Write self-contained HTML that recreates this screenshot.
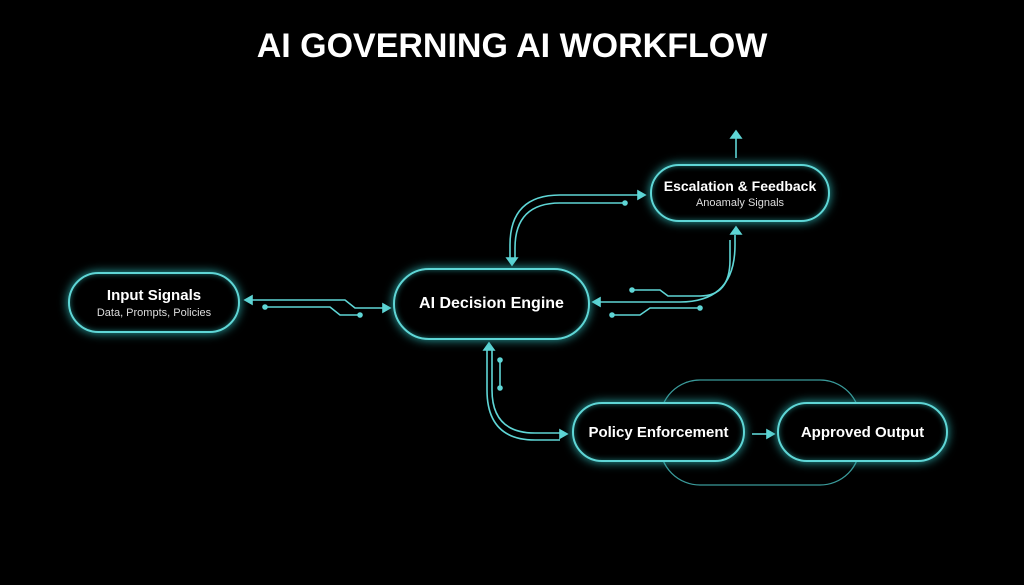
<!DOCTYPE html>
<html><head><style>
body{margin:0;width:1024px;height:585px;background:#000;overflow:hidden;font-family:"Liberation Sans",sans-serif;}
.t{position:absolute;left:0;width:1024px;top:27px;text-align:center;color:#fff;font-weight:bold;font-size:34px;}
.n{position:absolute;background:#000;border:2.5px solid #5fd6d6;border-radius:40px;box-shadow:0 0 10px #2aa8a8,inset 0 0 6px #1a6a6a;color:#fff;text-align:center;display:flex;flex-direction:column;justify-content:center;font-weight:bold;font-size:15px;box-sizing:border-box;}
.n small{font-weight:normal;font-size:11px;color:#ddd;margin-top:3px;}
</style></head><body>
<div class="t">AI GOVERNING AI WORKFLOW</div>
<svg width="1024" height="585" style="position:absolute;left:0;top:0" fill="none" stroke="#5fd6d6" stroke-width="1.6">
<rect x="660" y="380" width="200" height="105" rx="40" stroke="#3a9a9a" stroke-width="1.3"/>
<path d="M250 300 H345 L355 308 H385"/><path d="M265 307 H330 L340 315 H360"/>
<circle cx="265" cy="307" r="2" fill="#5fd6d6"/><circle cx="360" cy="315" r="2" fill="#5fd6d6"/>
<polygon points="245,300 252,296 252,304" fill="#5fd6d6"/><polygon points="390,308 383,304 383,312" fill="#5fd6d6"/>
<path d="M510 258 V245 Q510 195 560 195 H640"/><path d="M515 258 V248 Q515 203 560 203 H625"/>
<circle cx="625" cy="203" r="2" fill="#5fd6d6"/>
<polygon points="645,195 638,191 638,199" fill="#5fd6d6"/><polygon points="512,265 507,258 517,258" fill="#5fd6d6"/>
<path d="M598 302 H680 Q735 302 735 245 V235"/><path d="M612 315 H640 L650 308 H700"/><path d="M632 290 H660 L668 296 H700 Q730 296 730 260 V240"/>
<circle cx="612" cy="315" r="2" fill="#5fd6d6"/><circle cx="700" cy="308" r="2" fill="#5fd6d6"/><circle cx="632" cy="290" r="2" fill="#5fd6d6"/>
<polygon points="593,302 600,298 600,306" fill="#5fd6d6"/><polygon points="736,227 731,234 741,234" fill="#5fd6d6"/>
<path d="M736 158 V138"/><polygon points="736,131 731,138 741,138" fill="#5fd6d6"/>
<path d="M487 350 V390 Q487 440 535 440 H560"/><path d="M492 350 V390 Q492 433 535 433 H560"/>
<path d="M500 360 V388"/><circle cx="500" cy="360" r="2" fill="#5fd6d6"/><circle cx="500" cy="388" r="2" fill="#5fd6d6"/>
<polygon points="489,343 484,350 494,350" fill="#5fd6d6"/><polygon points="567,434 560,430 560,438" fill="#5fd6d6"/>
<path d="M752 434 H768"/><polygon points="774,434 767,430 767,438" fill="#5fd6d6"/>
</svg>
<div class="n" style="left:68px;top:272px;width:172px;height:61px">Input Signals<small>Data, Prompts, Policies</small></div>
<div class="n" style="left:393px;top:268px;width:197px;height:72px;font-size:16px">AI Decision Engine</div>
<div class="n" style="left:650px;top:164px;width:180px;height:58px;font-size:14px">Escalation &amp; Feedback<small>Anoamaly Signals</small></div>
<div class="n" style="left:572px;top:402px;width:173px;height:60px">Policy Enforcement</div>
<div class="n" style="left:777px;top:402px;width:171px;height:60px">Approved Output</div>
</body></html>
